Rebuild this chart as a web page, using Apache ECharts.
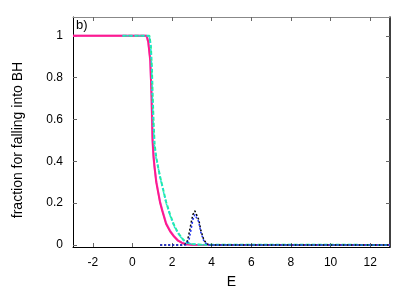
<!DOCTYPE html>
<html>
<head>
<meta charset="utf-8">
<script src="https://cdn.jsdelivr.net/npm/echarts@6/dist/echarts.min.js"></script>
<style>
  html, body { margin: 0; padding: 0; background: #fff; }
  #chart { width: 415px; height: 291px; }
</style>
</head>
<body>
<div id="chart"></div>
<script>
// tick labels
var xTicks = [-2, 0, 2, 4, 6, 8, 10, 12];
var yTicks = [0, 0.2, 0.4, 0.6, 0.8, 1];

// magenta solid curve
var pinkE = [-3, 0.72, 0.8, 0.9, 0.97, 1.02, 1.07, 1.12, 1.2, 1.3, 1.4, 1.5, 1.7, 1.9, 2.1, 2.3, 2.5, 2.7, 3.0, 13];
var pinkV = [1, 1, 0.97, 0.88, 0.7, 0.5, 0.42, 0.37, 0.3, 0.25, 0.2, 0.165, 0.1, 0.065, 0.04, 0.02, 0.01, 0.003, 0.001, 0];

// light violet curve (mostly hidden under the magenta one)
var violetE = [-3, 0.7, 0.8, 0.9, 0.96, 1.0, 1.05, 1.1, 1.2, 1.3, 1.4, 1.5, 1.7, 1.9, 2.1, 2.3, 2.5, 2.7, 3.0, 13];
var violetV = [1, 1, 0.97, 0.89, 0.72, 0.52, 0.43, 0.38, 0.31, 0.255, 0.205, 0.17, 0.105, 0.068, 0.042, 0.022, 0.011, 0.004, 0.001, 0];

// green dashed curve
var greenE = [-0.5, 0.86, 0.93, 0.98, 1.02, 1.07, 1.12, 1.2, 1.3, 1.4, 1.55, 1.7, 1.9, 2.1, 2.3, 2.5, 2.7, 3.0, 3.5, 13];
var greenV = [1, 1, 0.95, 0.85, 0.72, 0.58, 0.48, 0.42, 0.37, 0.325, 0.265, 0.205, 0.145, 0.095, 0.058, 0.032, 0.012, 0.004, 0.001, 0];

// cyan dotted curve
var cyanE = [-0.5, 0.85, 0.92, 0.97, 1.0, 1.05, 1.1, 1.2, 1.3, 1.4, 1.55, 1.7, 1.9, 2.1, 2.3, 2.5, 2.7, 3.0, 3.5, 13];
var cyanV = [1, 1, 0.95, 0.85, 0.72, 0.58, 0.48, 0.41, 0.37, 0.32, 0.26, 0.2, 0.14, 0.09, 0.055, 0.03, 0.01, 0.004, 0.001, 0];

// black dotted bump
var blackE = [1.4, 2.6, 2.75, 2.85, 2.95, 3.05, 3.15, 3.25, 3.35, 3.45, 3.6, 3.75, 3.9, 13];
var blackV = [0, 0, 0.01, 0.05, 0.1, 0.145, 0.163, 0.155, 0.12, 0.07, 0.025, 0.005, 0, 0];

// blue dotted bump
var blueE = [1.4, 2.7, 2.85, 2.95, 3.05, 3.15, 3.25, 3.35, 3.45, 3.6, 3.75, 3.9, 13];
var blueV = [0, 0, 0.02, 0.07, 0.12, 0.145, 0.14, 0.11, 0.06, 0.02, 0.003, 0, 0];

function pairs(xs, ys) {
  return xs.map(function (x, i) { return [x, ys[i]]; });
}

function line(name, xs, ys, color, type, width, z) {
  return {
    name: name,
    type: 'line',
    data: pairs(xs, ys),
    showSymbol: false,
    symbol: 'none',
    z: z,
    lineStyle: { color: color, width: width, type: type },
    animation: false
  };
}

var font = 'Liberation Sans, Arial, sans-serif';
var myChart = echarts.init(document.getElementById('chart'));

var option = {
  backgroundColor: '#fff',
  animation: false,
  grid: { left: 73, right: 25, top: 17, bottom: 44, outerBoundsMode: 'none', containLabel: false },
  xAxis: [
    {
      type: 'value', min: -3, max: 13, position: 'bottom',
      axisLine: { show: true, onZero: false, lineStyle: { color: '#000', width: 1 } },
      axisTick: { show: true, inside: true, length: 4, customValues: xTicks, lineStyle: { color: '#666' } },
      axisLabel: { customValues: xTicks, color: '#000', fontSize: 12, fontFamily: font, margin: 10 },
      splitLine: { show: false },
      name: 'E', nameLocation: 'middle', nameGap: 28,
      nameTextStyle: { color: '#000', fontSize: 14, fontFamily: font }
    },
    {
      type: 'value', min: -3, max: 13, position: 'top',
      axisLine: { show: true, onZero: false, lineStyle: { color: '#888', width: 1 } },
      axisTick: { show: true, inside: true, length: 4, customValues: xTicks, lineStyle: { color: '#666' } },
      axisLabel: { show: false },
      splitLine: { show: false }
    }
  ],
  yAxis: [
    {
      type: 'value', min: -0.01, max: 1.09, position: 'left',
      axisLine: { show: true, onZero: false, lineStyle: { color: '#000', width: 1 } },
      axisTick: { show: true, inside: true, length: 4, customValues: yTicks, lineStyle: { color: '#666' } },
      axisLabel: { customValues: yTicks, color: '#000', fontSize: 12, fontFamily: font, margin: 10 },
      splitLine: { show: false }
    },
    {
      type: 'value', min: -0.01, max: 1.09, position: 'right',
      axisLine: { show: true, onZero: false, lineStyle: { color: '#000', width: 1.5 } },
      axisTick: { show: true, inside: true, length: 4, customValues: yTicks, lineStyle: { color: '#666' } },
      axisLabel: { show: false },
      splitLine: { show: false }
    }
  ],
  graphic: [
    {
      type: 'text', x: 18, y: 140, rotation: Math.PI / 2,
      style: {
        text: 'fraction for falling into BH', fill: '#000',
        font: '14px ' + font, textAlign: 'center', textVerticalAlign: 'middle'
      }
    },
    {
      type: 'text', x: 76, y: 19,
      style: { text: 'b)', fill: '#000', font: '13px ' + font }
    }
  ],
  series: [
    line('violet', violetE, violetV, '#e080f0', 'solid', 2, 1),
    line('magenta', pinkE, pinkV, '#ff1a8c', 'solid', 2, 2),
    line('green', greenE, greenV, '#22ee99', [4, 2], 2, 3),
    line('cyan', cyanE, cyanV, '#22dddd', [2, 2], 1.5, 4),
    line('black', blackE, blackV, '#000', [2, 2], 1.5, 5),
    line('blue', blueE, blueV, '#2233ee', [2, 2], 1.5, 6)
  ]
};

myChart.setOption(option);
</script>
</body>
</html>
